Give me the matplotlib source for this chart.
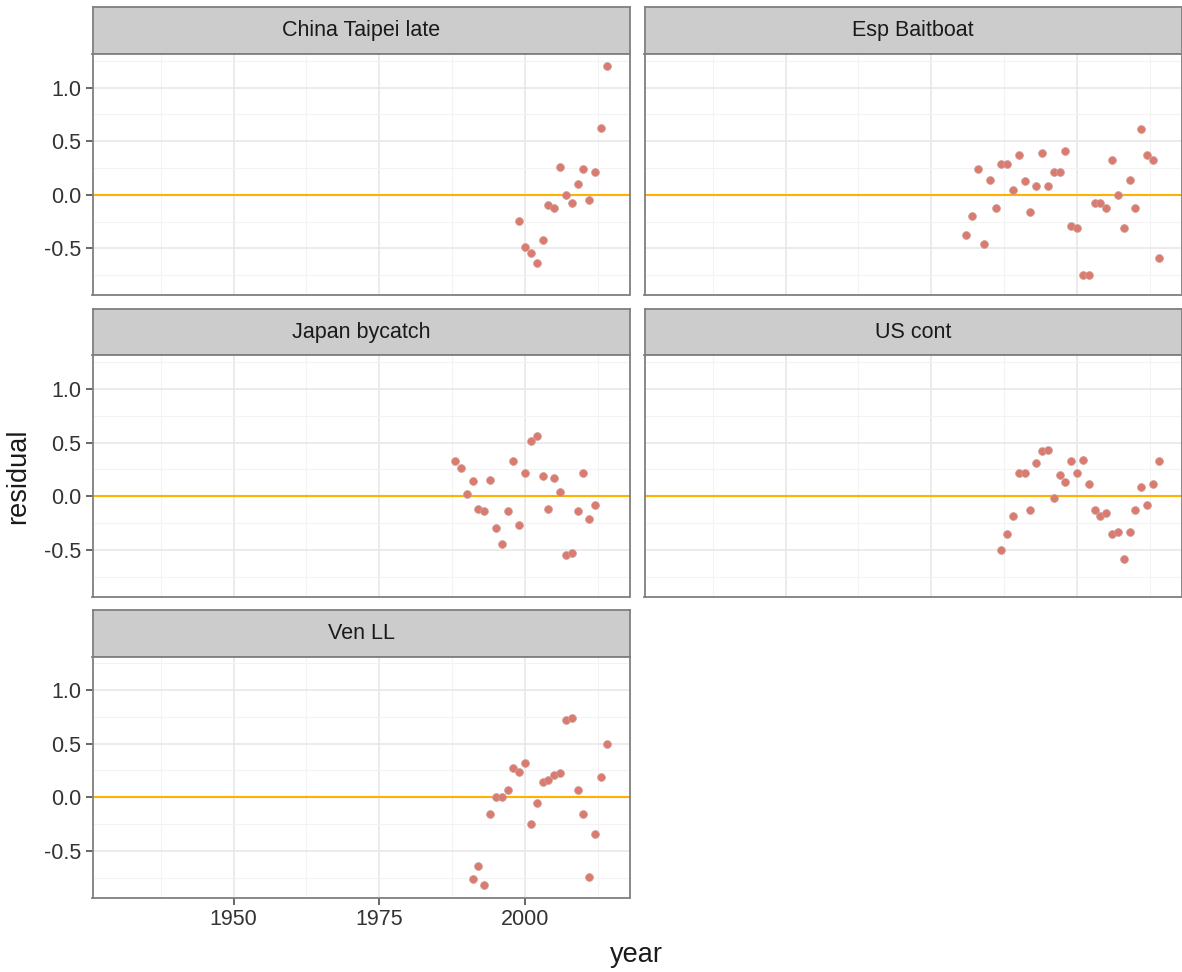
import numpy as np
import matplotlib
matplotlib.use('Agg')
import matplotlib.pyplot as plt

plt.rcParams['font.family'] = ['Liberation Sans', 'DejaVu Sans']

#==========Data==========
fleets = ['China Taipei late', 'Esp Baitboat', 'Japan bycatch', 'US cont', 'Ven LL']

years_taipei = list(range(1999, 2015))
resid_taipei = [-0.245, -0.49, -0.54, -0.64, -0.42, -0.10, -0.12, 0.26, 0.00, -0.08,
                0.10, 0.24, -0.05, 0.21, 0.62, 1.20]

years_esp = list(range(1981, 2015))
resid_esp = [-0.375, -0.20, 0.24, -0.46, 0.14, -0.12, 0.29, 0.29, 0.045, 0.375,
             0.126, -0.16, 0.08, 0.39, 0.08, 0.21, 0.21, 0.41, -0.29, -0.31,
             -0.75, -0.745, -0.08, -0.08, -0.12, 0.32, 0.00, -0.31, 0.14, -0.12,
             0.61, 0.37, 0.32, -0.59]

years_japan = list(range(1988, 2013))
resid_japan = [0.33, 0.26, 0.02, 0.14, -0.12, -0.14, 0.155, -0.30, -0.45, -0.14,
               0.33, -0.27, 0.22, 0.52, 0.56, 0.19, -0.12, 0.17, 0.04, -0.55,
               -0.53, -0.14, 0.22, -0.21, -0.08]

years_us = list(range(1987, 2015))
resid_us = [-0.50, -0.355, -0.18, 0.215, 0.215, -0.13, 0.31, 0.42, 0.435, -0.015,
            0.20, 0.135, 0.33, 0.215, 0.34, 0.11, -0.127, -0.18, -0.16, -0.35,
            -0.335, -0.59, -0.335, -0.127, 0.09, -0.08, 0.11, 0.33]

years_ven = list(range(1991, 2015))
resid_ven = [-0.76, -0.645, -0.82, -0.157, 0.00, 0.00, 0.07, 0.27, 0.24, 0.32,
             -0.25, -0.05, 0.145, 0.16, 0.21, 0.225, 0.72, 0.74, 0.065, -0.157,
             -0.74, -0.34, 0.19, 0.50]

years = [years_taipei, years_esp, years_japan, years_us, years_ven]
resids = [resid_taipei, resid_esp, resid_japan, resid_us, resid_ven]

x_ticks = [1950, 1975, 2000]
y_ticks = [-0.5, 0.0, 0.5, 1.0]

#==========Figure & panel layout (pixels)==========
W, H = 1182, 972
fig = plt.figure(figsize=(W / 100, H / 100), dpi=100)

col_x = [92.5, 644.5]
col_w = 537.0
strip_top = [7.5, 309.0, 610.0]
strip_h = 46.5
plot_h = 241.5

border = '#7f7f7f'


def px_axes(x0, y0, w, h):
    return fig.add_axes([x0 / W, 1 - (y0 + h) / H, w / W, h / H])


for i, name in enumerate(fleets):
    row, col = divmod(i, 2)
    x0 = col_x[col]
    top = strip_top[row]

    #==========Strip==========
    sax = px_axes(x0, top, col_w, strip_h)
    sax.set_facecolor('#cccccc')
    sax.set_xticks([])
    sax.set_yticks([])
    for sp in sax.spines.values():
        sp.set_color(border)
        sp.set_linewidth(1.3)
    sax.text(0.5, 0.5, name, ha='center', va='center', fontsize=15.5,
             color='#1a1a1a', transform=sax.transAxes)

    #==========Panel==========
    ax = px_axes(x0, top + strip_h, col_w, plot_h)
    ax.set_xlim(1925.8, 2017.9)
    ax.set_ylim(-0.94, 1.313)
    ax.set_xticks(x_ticks)
    ax.set_yticks(y_ticks)
    ax.set_xticks([1937.5, 1962.5, 1987.5, 2012.5], minor=True)
    ax.set_yticks([-0.75, -0.25, 0.25, 0.75, 1.25], minor=True)
    ax.grid(True, which='major', color='#e6e6e6', linewidth=1.1)
    ax.grid(True, which='minor', color='#f3f3f3', linewidth=0.8)
    ax.set_axisbelow(True)
    for sp in ax.spines.values():
        sp.set_color(border)
        sp.set_linewidth(1.3)

    ax.axhline(0, color='#ffb000', linewidth=1.5, zorder=2)
    ax.scatter(years[i], resids[i], s=32, color='#dc7a6f', edgecolors='#c9a09a',
               linewidths=0.5, zorder=3)

    ax.tick_params(which='minor', length=0)
    ax.tick_params(which='major', color='#4d4d4d', length=5, width=1.2,
                   labelsize=15.5, labelcolor='#333333', pad=3)
    if col == 1:
        ax.tick_params(axis='y', left=False, labelleft=False)
    else:
        ax.set_yticklabels(['-0.5', '0.0', '0.5', '1.0'])
    if i != 4:
        ax.tick_params(axis='x', bottom=False, labelbottom=False)

#==========Axis titles==========
fig.text(18 / W, 1 - 476 / H, 'residual', rotation=90, ha='center', va='center',
         fontsize=19.5, color='#1a1a1a')
fig.text(636 / W, 1 - 955 / H, 'year', ha='center', va='center',
         fontsize=19.5, color='#1a1a1a')

fig.savefig('out.png', dpi=100)
